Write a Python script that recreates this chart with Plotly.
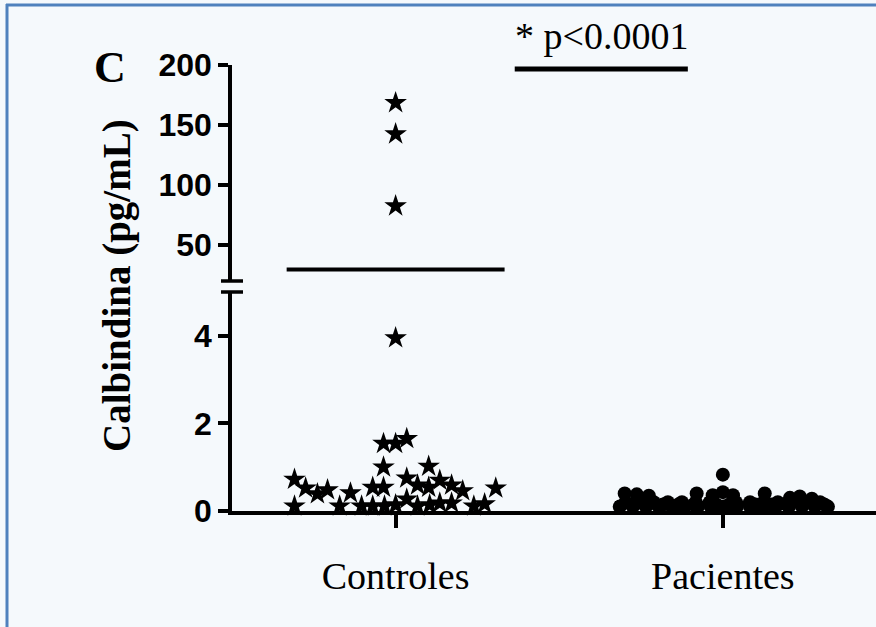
import plotly.graph_objects as go

# ---------------- data ----------------
categories = ["Controles", "Pacientes"]

# Controles: value (pg/mL) and horizontal scatter offset (category units)
ctrl_values = [0.11, 0.11, 0.11, 0.11, 0.11, 0.14, 0.27, 0.11, 0.14, 0.18, 0.18, 0.11, 0.16,
               0.72, 0.52, 0.39, 0.48, 0.41, 0.54, 0.54, 1.00, 1.54, 1.54, 1.65, 0.75, 0.59,
               1.02, 0.54, 0.70, 0.59, 0.46, 0.52,
               3.95, 82.5, 142.5, 168.5]
ctrl_offsets = [-0.309, -0.171, -0.104, -0.070, -0.034, 0.0, 0.034, 0.067, 0.104, 0.135, 0.171, 0.239, 0.272,
                -0.309, -0.275, -0.239, -0.208, -0.138, -0.070, -0.037, -0.037, -0.037, 0.0, 0.034, 0.034, 0.067,
                0.101, 0.101, 0.135, 0.171, 0.205, 0.306,
                0.0, 0.0, 0.0, 0.0]

# Pacientes
pac_values = ([0.10] * 17 + [0.20] * 14 + [0.15] * 12 +
              [0.40, 0.38, 0.35, 0.40, 0.36, 0.43, 0.36, 0.40, 0.30, 0.33, 0.28, 0.83])
pac_offsets = [-0.315, -0.275, -0.235, -0.196, -0.156, -0.116, -0.076, -0.037, 0.003, 0.043, 0.083, 0.122,
               0.162, 0.202, 0.242, 0.281, 0.321,
               -0.297, -0.254, -0.211, -0.168, -0.125, -0.083, -0.040, 0.040, 0.083, 0.125, 0.168, 0.211,
               0.254, 0.297,
               -0.277, -0.230, -0.183, -0.136, -0.089, -0.020, 0.020, 0.100, 0.147, 0.194, 0.241, 0.310,
               -0.300, -0.263, -0.226, -0.080, -0.031, 0.0, 0.031, 0.128, 0.205, 0.235, 0.272, 0.0]

mean_ctrl = 29.5
mean_pac = 0.17

lower_range = [0, 5]
upper_range = [20, 200]
lower_ticks = [0, 2, 4]
upper_ticks = [50, 100, 150, 200]
y_title = "Calbindina (pg/mL)"
p_text = "* p<0.0001"
p_bar_y = 196.6
p_bar_x = [0.364, 0.893]
panel_label = "C"

# ---------------- figure ----------------
W, H = 876, 627
ML, MR, MT, MB = 232, 0, 65, 116
BG = "#F5F9FC"
BORDER = "#4F81BD"
LW = 3.5

fig = go.Figure()


def split(values, offsets, xi, brk):
    lo = [(xi + o, v) for v, o in zip(values, offsets) if v <= brk]
    hi = [(xi + o, v) for v, o in zip(values, offsets) if v > brk]
    return lo, hi


for xi, vals, offs, sym, size in [(0, ctrl_values, ctrl_offsets, "star", 17),
                                  (1, pac_values, pac_offsets, "circle", 14)]:
    lo, hi = split(vals, offs, xi, lower_range[1])
    for pts, ya in [(lo, "y"), (hi, "y2")]:
        if not pts:
            continue
        fig.add_trace(go.Scatter(
            x=[p[0] for p in pts], y=[p[1] for p in pts], yaxis=ya, mode="markers",
            marker=dict(symbol=sym, size=size, color="black", line=dict(width=0)),
            cliponaxis=False, showlegend=False, hoverinfo="skip"))

# mean lines
fig.add_trace(go.Scatter(x=[-0.333, 0.333], y=[mean_ctrl, mean_ctrl], yaxis="y2", mode="lines",
                         line=dict(color="black", width=4), showlegend=False, hoverinfo="skip"))
fig.add_trace(go.Scatter(x=[1 - 0.33, 1 + 0.33], y=[mean_pac, mean_pac], yaxis="y", mode="lines",
                         line=dict(color="black", width=5), showlegend=False, hoverinfo="skip"))
# significance bar
fig.add_trace(go.Scatter(x=p_bar_x, y=[p_bar_y, p_bar_y], yaxis="y2", mode="lines",
                         line=dict(color="black", width=5), cliponaxis=False,
                         showlegend=False, hoverinfo="skip"))

pw = W - ML - MR
ph = H - MT - MB


def px_to_paper_x(px):
    return (px - ML) / pw


def px_to_paper_y(py):
    return (H - MB - py) / ph


lower_top = px_to_paper_y(292)
upper_bot = px_to_paper_y(281)

tickfont = dict(family="Liberation Sans, Arial", size=32, color="black", weight="bold")

fig.update_layout(
    width=W, height=H,
    margin=dict(l=ML, r=MR, t=MT, b=MB, pad=0),
    paper_bgcolor=BG, plot_bgcolor=BG,
    xaxis=dict(range=[-0.5, 1.468], domain=[0, 1], anchor="y",
               showline=True, linewidth=LW, linecolor="black", showgrid=False, zeroline=False,
               ticks="outside", ticklen=13, tickwidth=LW, tickcolor="black",
               tickvals=[0, 1], ticktext=categories, ticklabelstandoff=16,
               tickfont=dict(family="Liberation Serif, Times New Roman", size=38, color="black")),
    yaxis=dict(range=lower_range, domain=[0, lower_top], anchor="x",
               showline=True, linewidth=LW, linecolor="black", showgrid=False, zeroline=False,
               ticks="outside", ticklen=10, tickwidth=LW, tickcolor="black",
               tickvals=lower_ticks, tickfont=tickfont, ticklabelstandoff=0),
    yaxis2=dict(range=upper_range, domain=[upper_bot, 1], anchor="x",
                showline=True, linewidth=LW, linecolor="black", showgrid=False, zeroline=False,
                ticks="outside", ticklen=10, tickwidth=LW, tickcolor="black",
                tickvals=upper_ticks, tickfont=tickfont, ticklabelstandoff=0),
)

# axis break marks
for py in (281, 292):
    fig.add_shape(type="line", xref="paper", yref="paper",
                  x0=px_to_paper_x(221), x1=px_to_paper_x(243),
                  y0=px_to_paper_y(py), y1=px_to_paper_y(py),
                  line=dict(color="black", width=LW))

# frame border (top and left visible only)
fig.add_shape(type="line", xref="paper", yref="paper",
              x0=px_to_paper_x(6), x1=px_to_paper_x(W + 40),
              y0=px_to_paper_y(5), y1=px_to_paper_y(5),
              line=dict(color=BORDER, width=3), layer="below")
fig.add_shape(type="line", xref="paper", yref="paper",
              x0=px_to_paper_x(7), x1=px_to_paper_x(7),
              y0=px_to_paper_y(4), y1=px_to_paper_y(H + 40),
              line=dict(color=BORDER, width=3), layer="below")

# annotations
fig.add_annotation(text=y_title, xref="paper", yref="paper",
                   x=px_to_paper_x(117), y=px_to_paper_y(286), textangle=-90,
                   showarrow=False, xanchor="center", yanchor="middle",
                   font=dict(family="Liberation Serif, Times New Roman", size=39, color="black", weight="bold"))
fig.add_annotation(text=panel_label, xref="paper", yref="paper",
                   x=px_to_paper_x(110), y=px_to_paper_y(67),
                   showarrow=False, xanchor="center", yanchor="middle",
                   font=dict(family="Liberation Serif, Times New Roman", size=44, color="black", weight="bold"))
fig.add_annotation(text=p_text, xref="paper", yref="paper",
                   x=px_to_paper_x(601), y=px_to_paper_y(36),
                   showarrow=False, xanchor="center", yanchor="middle",
                   font=dict(family="Liberation Serif, Times New Roman", size=38, color="black"))

fig.write_html("out.html")
